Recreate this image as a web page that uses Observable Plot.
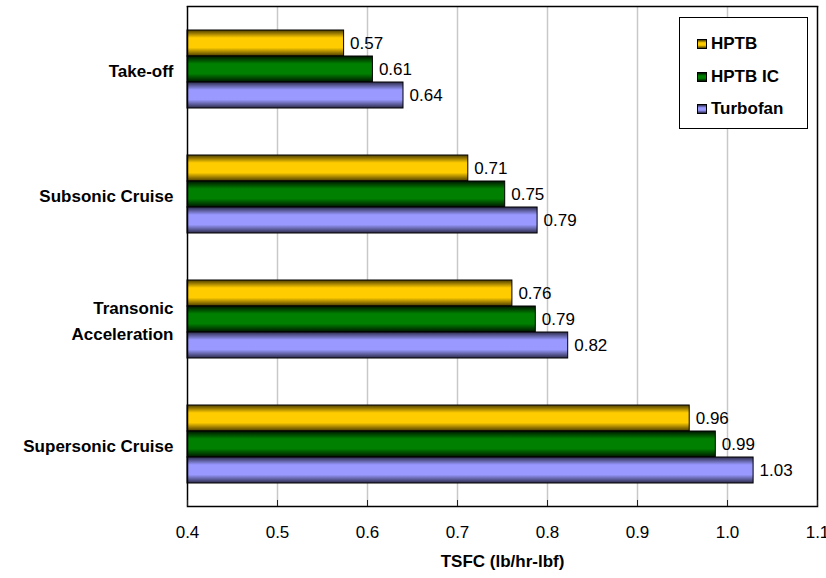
<!DOCTYPE html>
<html>
<head>
<meta charset="utf-8">
<script src="https://cdn.jsdelivr.net/npm/d3@7"></script>
<script src="https://cdn.jsdelivr.net/npm/@observablehq/plot@0.6"></script>
<style>
  body { margin: 0; background: #fff; font-family: "Liberation Sans", Arial, sans-serif; }
  #wrap { position: relative; width: 826px; height: 578px; overflow: hidden; }
  #legend { position: absolute; left: 679px; top: 17px; width: 129px; height: 112px; border: 1px solid #000;
            background: #fff; box-sizing: border-box; font-weight: bold; font-size: 17px; color: #000; }
  #legend .item { position: absolute; left: 17px; display: flex; align-items: center; height: 18px; }
  #legend .sw { width: 8px; height: 8px; border: 1px solid #000; margin-right: 4px; }
  g[aria-label="x-axis label"] text { font-weight: bold; }
  g[aria-label="fy-axis tick label"] text { font-weight: bold; }
</style>
</head>
<body>
<div id="wrap"></div>
<script>
const categories = ["Take-off", "Subsonic Cruise", "Transonic Acceleration", "Supersonic Cruise"];
const series = ["HPTB", "HPTB IC", "Turbofan"];
const hptb = [0.574, 0.712, 0.761, 0.958];
const hptbIC = [0.606, 0.753, 0.787, 0.987];
const turbofan = [0.640, 0.789, 0.823, 1.029];
const xTicks = [0.4, 0.5, 0.6, 0.7, 0.8, 0.9, 1.0, 1.1];
const seriesColors = ["#FFCC00", "#008000", "#9999FF"];
const seriesDark = ["#4a3b00", "#001400", "#2a2a48"];

const valuesBySeries = [hptb, hptbIC, turbofan];
const data = categories.flatMap((c, i) => series.map((s, j) => ({category: c, series: s, value: valuesBySeries[j][i]})));
const fmt2 = d3.format(".2f");
const gradIds = series.map((s, j) => "grad" + j);

function defsMark() {
  const defs = d3.create("svg:defs");
  series.forEach((s, j) => {
    const g = defs.append("linearGradient").attr("id", gradIds[j]).attr("x1", 0).attr("y1", 0).attr("x2", 0).attr("y2", 1);
    g.append("stop").attr("offset", "0%").attr("stop-color", seriesDark[j]);
    g.append("stop").attr("offset", "30%").attr("stop-color", seriesColors[j]);
    g.append("stop").attr("offset", "68%").attr("stop-color", seriesColors[j]);
    g.append("stop").attr("offset", "100%").attr("stop-color", seriesDark[j]);
  });
  return defs.node();
}

const chart = Plot.plot({
  width: 826,
  height: 578,
  marginLeft: 187,
  marginRight: 9,
  marginTop: 6,
  marginBottom: 72,
  style: {fontFamily: "'Liberation Sans', Arial, sans-serif", fontSize: "17px", color: "#000", background: "#fff", overflow: "visible"},
  x: {domain: [xTicks[0], xTicks[xTicks.length - 1]]},
  y: {domain: series, paddingInner: 0, paddingOuter: 0.815, axis: null},
  fy: {domain: categories, padding: 0, label: null, axis: null},
  color: {domain: series, range: gradIds.map(id => `url(#${id})`)},
  marks: [
    defsMark,
    Plot.gridX(xTicks.slice(1, -1), {stroke: "#c8c8c8", strokeOpacity: 1, strokeWidth: 1.5}),
    Plot.barX(data, {y: "series", fy: "category", x1: xTicks[0], x2: "value", fill: "series", stroke: "#000", strokeWidth: 1}),
    Plot.text(data, {y: "series", fy: "category", x: "value", text: d => fmt2(d.value), dx: 6, textAnchor: "start", fontSize: 17, fill: "#000"}),
    Plot.ruleX([xTicks[0]], {stroke: "#000", strokeWidth: 1.5}),
    Plot.ruleX([xTicks[xTicks.length - 1]], {stroke: "#000", strokeWidth: 1.5}),
    Plot.frame({anchor: "top", facetAnchor: "top", stroke: "#000", strokeWidth: 1.5}),
    Plot.frame({anchor: "bottom", facetAnchor: "bottom", stroke: "#000", strokeWidth: 1.5}),
    Plot.axisX({ticks: xTicks, tickSize: -6, tickFormat: () => "", label: null, stroke: "#222"}),
    Plot.axisX({ticks: xTicks, tickSize: 0, tickPadding: 19, tickFormat: d3.format(".1f"), fontSize: 17,
                label: "TSFC (lb/hr-lbf)", labelAnchor: "center", labelOffset: 60, labelArrow: "none"}),
    Plot.axisFy({anchor: "left", tickSize: 0, tickPadding: 14, label: null, fontSize: 17, fontWeight: "bold", lineHeight: 1.53,
                 tickFormat: c => c === "Transonic Acceleration" ? "Transonic\nAcceleration" : c})
  ]
});

const wrap = document.getElementById("wrap");
wrap.appendChild(chart);

const legend = document.createElement("div");
legend.id = "legend";
series.forEach((s, j) => {
  const item = document.createElement("div");
  item.className = "item";
  item.style.top = (17 + j * 32.5) + "px";
  const sw = document.createElement("span");
  sw.className = "sw";
  sw.style.background = `linear-gradient(${seriesDark[j]}, ${seriesColors[j]} 35%, ${seriesColors[j]} 65%, ${seriesDark[j]})`;
  const lab = document.createElement("span");
  lab.textContent = s;
  item.appendChild(sw);
  item.appendChild(lab);
  legend.appendChild(item);
});
wrap.appendChild(legend);
</script>
</body>
</html>
